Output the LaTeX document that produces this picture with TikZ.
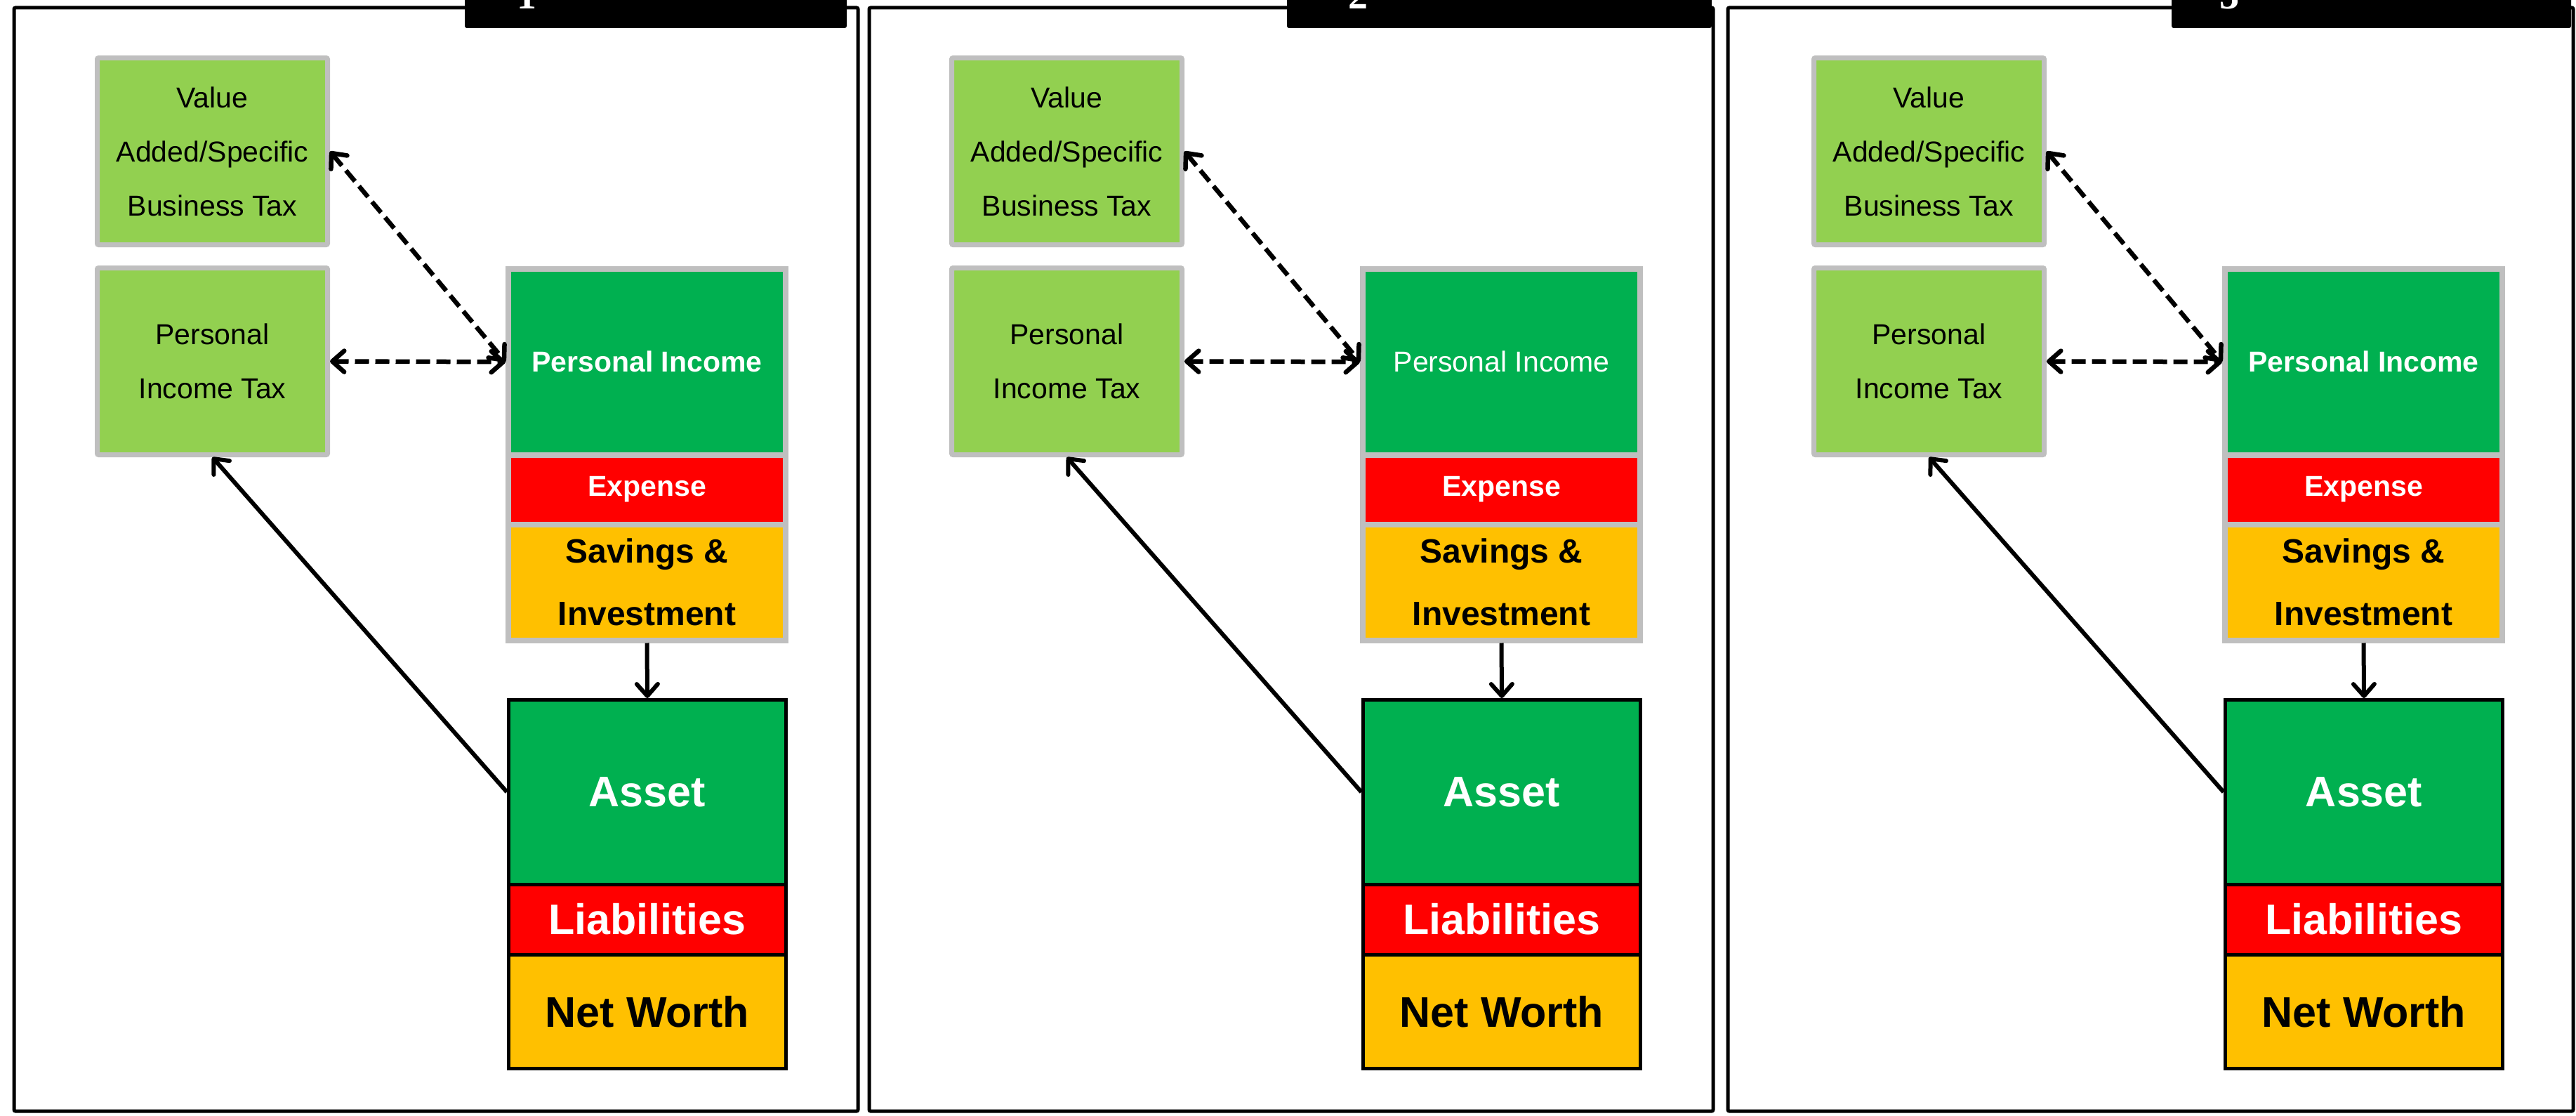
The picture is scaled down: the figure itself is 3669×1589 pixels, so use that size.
\documentclass[tikz,border=0pt]{standalone}
\usepackage{fontspec}
\setmainfont{Liberation Sans}
\newfontfamily\digitfont{Liberation Serif}
\usetikzlibrary{arrows.meta}
\definecolor{lgreen}{HTML}{92D050}
\definecolor{dgreen}{HTML}{00B050}
\definecolor{bred}{HTML}{FF0000}
\definecolor{gold}{HTML}{FFC000}
\definecolor{lgray}{HTML}{BFBFBF}
\begin{document}
\begin{tikzpicture}[x=1pt,y=-1pt,
  taxbox/.style={draw=lgray, line width=7pt, fill=lgreen, rounded corners=2pt,
    minimum width=328pt, minimum height=266pt, inner sep=0pt, align=center,
    font=\fontsize{41}{77}\selectfont},
  flowbox/.style={draw=lgray, line width=8pt, minimum width=395pt, inner sep=0pt, align=center},
  balbox/.style={draw=black, line width=5pt, minimum width=395pt, inner sep=0pt, align=center,
    font=\fontsize{61}{70}\selectfont\bfseries},
  panelframe/.style={draw=black, line width=5pt, rounded corners=2pt},
  labelbox/.style={fill=black, rounded corners=3pt},
  tagtext/.style={text=white, inner sep=0pt, anchor=base,
    font=\digitfont\bfseries\fontsize{56}{60}\selectfont},
  tip/.style={Straight Barb[length=17pt,width=30pt,round]},
  link/.style={line width=6pt, -{Straight Barb[length=17pt,width=30pt,round]}},
  duallink/.style={line width=6.5pt, dash pattern=on 20pt off 9pt,
    {Straight Barb[length=17pt,width=30pt,round]}-{Straight Barb[length=17pt,width=30pt,round]}},
]
\useasboundingbox (0,0) rectangle (3669,1589);

% panel frames and label tabs
\foreach \p/\xl/\xr/\tl/\tr/\dx in {1/20/1222/662/1206/750, 2/1238/2440/1833/2438/1934, 3/2461/3665/3093/3662/3175}{
  \draw[panelframe] (\xl,11) rectangle (\xr,1582);
  \fill[labelbox] (\tl,-40) rectangle (\tr,40);
  \node[tagtext] (tag\p) at (\dx,13) {\p};
}

% panel contents
\foreach \p/\dx/\piw in {1/0/\bfseries, 2/1217/\mdseries, 3/2445/\bfseries}{
  \begin{scope}[xshift=\dx pt]
    \node[taxbox] (vat\p) at (302.5,215.5) {Value\\Added/Specific\\Business Tax};
    \node[taxbox] (pit\p) at (302.5,514.5) {Personal\\Income Tax};
    \node[flowbox, fill=dgreen, minimum height=264.5pt, text=white,
      font=\fontsize{41}{49}\selectfont\piw] (pi\p) at (921.5,515.25) {Personal Income};
    \node[flowbox, fill=bred, minimum height=99pt, text=white,
      font=\fontsize{41}{49}\selectfont\bfseries] (exp\p) at (921.5,697) {Expense};
    \node[flowbox, fill=gold, minimum height=165pt, text=black,
      font=\fontsize{48}{89}\selectfont\bfseries] (sav\p) at (921.5,829) {Savings \&\\Investment};
    \node[balbox, fill=dgreen, minimum height=262.5pt, text=white] (asset\p) at (922,1127.75) {Asset};
    \node[balbox, fill=bred, minimum height=100pt, text=white] (liab\p) at (922,1309) {Liabilities};
    \node[balbox, fill=gold, minimum height=162.5pt, text=black] (nw\p) at (922,1440.25) {Net Worth};
    \draw[duallink] (vat\p.east) -- (pi\p.west);
    \draw[duallink] (pit\p.east) -- (pi\p.west);
    \draw[link] (asset\p.west) -- (pit\p.south);
    \draw[link] (sav\p.south) -- (asset\p.north);
  \end{scope}
}
\end{tikzpicture}
\end{document}
